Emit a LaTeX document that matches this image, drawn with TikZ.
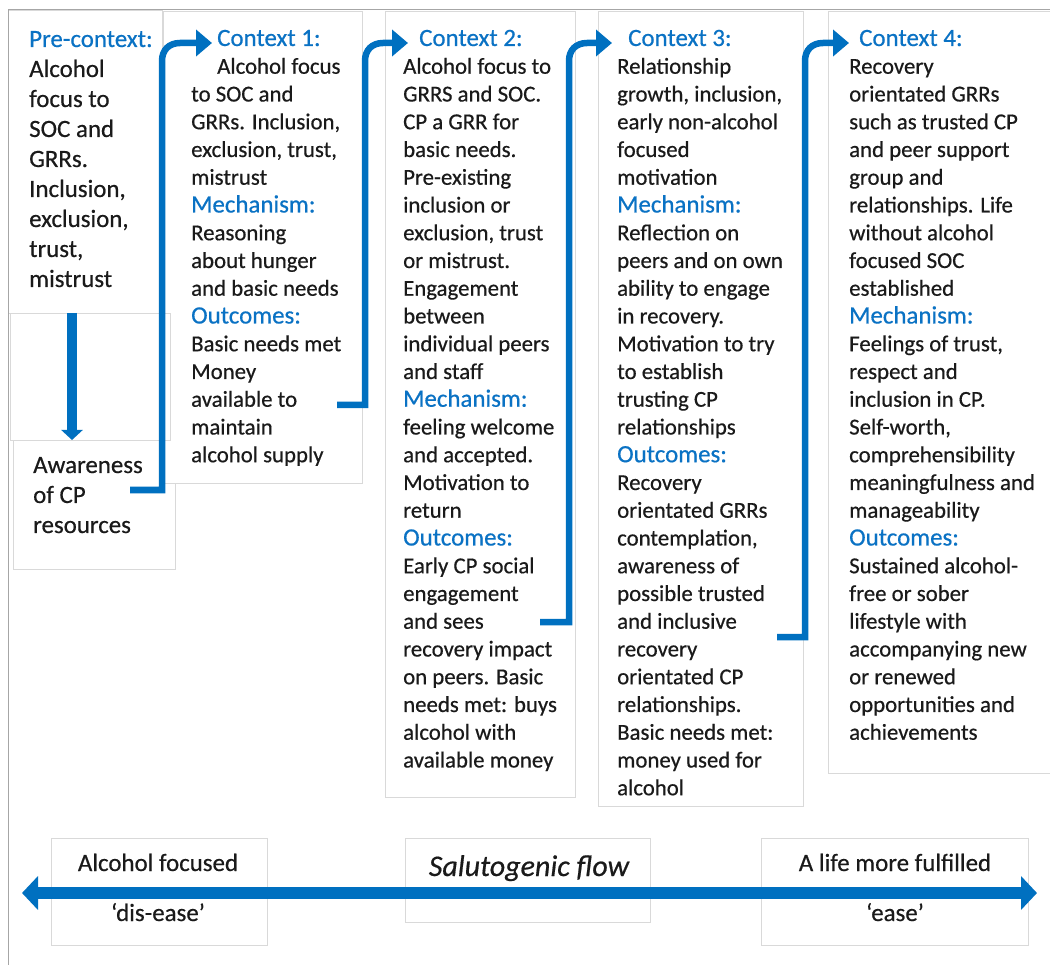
\documentclass[tikz,border=0pt]{standalone}
\usepackage{fontspec}
\setmainfont{Carlito}[FakeBold=0.5]
\usetikzlibrary{arrows.meta}

\definecolor{flowblue}{HTML}{0070C0}
\definecolor{headblue}{HTML}{0A72C4}
\definecolor{panelgray}{HTML}{D9D9D9}
\definecolor{framegray}{HTML}{A6A6A6}
\definecolor{ink}{HTML}{1A1A1A}

\newcommand{\hd}[1]{{\fontsize{24.9pt}{27.75pt}\selectfont\color{headblue}#1}}

\tikzset{
  panel/.style={draw=panelgray, line width=1pt, fill=white, anchor=north west, inner sep=0pt},
  coltext/.style={anchor=base west, inner sep=0pt, text=ink,
    font=\fontsize{22.8pt}{27.75pt}\selectfont},
  bigtext/.style={anchor=base west, inner sep=0pt, text=ink,
    font=\fontsize{24.9pt}{30pt}\selectfont},
  label/.style={anchor=base, inner sep=0pt, text=ink,
    font=\fontsize{24.9pt}{30pt}\selectfont},
  flow/.style={draw=flowblue, line width=6.5pt, line join=miter,
    -{Triangle[width=26pt,length=16pt]}},
  drop/.style={draw=flowblue, line width=9.5pt,
    -{Triangle[width=21pt,length=10pt]}},
  span/.style={draw=flowblue, line width=12pt,
    {Triangle[width=33pt,length=16pt]}-{Triangle[width=33pt,length=16pt]}},
}

\begin{document}
\begin{tikzpicture}[x=1pt, y=-1pt]
\useasboundingbox (0,0) rectangle (1050,965);

% panels
\node[panel, minimum width=154pt, minimum height=303pt] (prebox) at (8,10) {};
\node[panel, minimum width=162pt, minimum height=129pt] (awarebox) at (13,440) {};
\node[panel, minimum width=199pt, minimum height=472pt] (c1box) at (163,11) {};
\node[panel, fill=none, minimum width=160pt, minimum height=127pt] (dropbox) at (10,313) {};
\node[panel, minimum width=190pt, minimum height=786pt] (c2box) at (385,11) {};
\node[panel, minimum width=205pt, minimum height=795pt] (c3box) at (598,11) {};
\node[panel, minimum width=226pt, minimum height=762pt] (c4box) at (828,11) {};
\node[panel, minimum width=216pt, minimum height=107pt] (lbox) at (51,838) {};
\node[panel, minimum width=245pt, minimum height=84pt] (mbox) at (405,838) {};
\node[panel, minimum width=267pt, minimum height=107pt] (rbox) at (761,838) {};

% outer frame
\draw[framegray, line width=1pt] (8,965) -- (8,10) -- (1050,10);

% column texts
\node[bigtext] (pre) at (29,47) {\begin{tabular}[t]{@{}l@{}}
\hd{\fontsize{24.9pt}{30pt}\selectfont Pre-context:}\\
Alcohol\\ focus to\\ SOC and\\ GRRs.\\ Inclusion,\\ exclusion,\\ trust,\\ mistrust
\end{tabular}};

\node[bigtext] (aware) at (33,473) {\begin{tabular}[t]{@{}l@{}}
Awareness\\ of CP\\ resources
\end{tabular}};

\node[coltext] (c1) at (191,46) {\begin{tabular}[t]{@{}l@{}}
\hspace*{26pt}\hd{Context 1:}\\
\hspace*{26pt}Alcohol focus\\ to SOC and\\ GRRs. Inclusion,\\ exclusion, trust,\\ mistrust\\
\hd{Mechanism:}\\
Reasoning\\ about hunger\\ and basic needs\\
\hd{Outcomes:}\\
Basic needs met\\ Money\\ available to\\ maintain\\ alcohol supply
\end{tabular}};

\node[coltext] (c2) at (403,46) {\begin{tabular}[t]{@{}l@{}}
\hspace*{16pt}\hd{Context 2:}\\
Alcohol focus to\\ GRRS and SOC.\\ CP a GRR for\\ basic needs.\\ Pre-existing\\
inclusion or\\ exclusion, trust\\ or mistrust.\\ Engagement\\ between\\
individual peers\\ and staff\\
\hd{Mechanism:}\\
feeling welcome\\ and accepted.\\ Motivation to\\ return\\
\hd{Outcomes:}\\
Early CP social\\ engagement\\ and sees\\ recovery impact\\ on peers. Basic\\
needs met: buys\\ alcohol with\\ available money
\end{tabular}};

\node[coltext] (c3) at (617,46) {\begin{tabular}[t]{@{}l@{}}
\hspace*{11pt}\hd{Context 3:}\\
Relationship\\ growth, inclusion,\\ early non-alcohol\\ focused\\ motivation\\
\hd{Mechanism:}\\
Reflection on\\ peers and on own\\ ability to engage\\ in recovery.\\
Motivation to try\\ to establish\\ trusting CP\\ relationships\\
\hd{Outcomes:}\\
Recovery\\ orientated GRRs\\ contemplation,\\ awareness of\\ possible trusted\\
and inclusive\\ recovery\\ orientated CP\\ relationships.\\ Basic needs met:\\
money used for\\ alcohol
\end{tabular}};

\node[coltext] (c4) at (849,46) {\begin{tabular}[t]{@{}l@{}}
\hspace*{10pt}\hd{Context 4:}\\
Recovery\\ orientated GRRs\\ such as trusted CP\\ and peer support\\ group and\\
relationships. Life\\ without alcohol\\ focused SOC\\ established\\
\hd{Mechanism:}\\
Feelings of trust,\\ respect and\\ inclusion in CP.\\ Self-worth,\\
comprehensibility\\ meaningfulness and\\ manageability\\
\hd{Outcomes:}\\
Sustained alcohol-\\ free or sober\\ lifestyle with\\ accompanying new\\
or renewed\\ opportunities and\\ achievements
\end{tabular}};

% bottom scale labels
\node[label] (ltop) at (158,871) {Alcohol focused};
\node[label] (lbot) at (158,921) {‘dis-ease’};
\node[label, font=\fontsize{30pt}{36pt}\selectfont\itshape] (mid) at (529,876) {Salutogenic flow};
\node[label] (rtop) at (895,871) {A life more fulfilled};
\node[label] (rbot) at (895,921) {‘ease’};

% connector end points
\coordinate (d0) at (72,313);
\coordinate (d1) at (72,440);
\coordinate (o0) at (130,490);
\coordinate (i1) at (212,43);
\coordinate (o1) at (337,405);
\coordinate (i2) at (408,43);
\coordinate (o2) at (540,622);
\coordinate (i3) at (612,43);
\coordinate (o3) at (777,637);
\coordinate (i4) at (849,43);
\coordinate (sl) at (22,893);
\coordinate (sr) at (1037,893);

% flow connectors
\draw[drop] (d0) -- (d1);
\draw[flow] (o0) -- (162,490) -- (162,61) .. controls (162,50) and (169,43) .. (180,43) -- (i1);
\draw[flow] (o1) -- (365,405) -- (365,61) .. controls (365,50) and (372,43) .. (383,43) -- (i2);
\draw[flow] (o2) -- (569,622) -- (569,61) .. controls (569,50) and (576,43) .. (587,43) -- (i3);
\draw[flow] (o3) -- (805,637) -- (805,61) .. controls (805,50) and (812,43) .. (823,43) -- (i4);

% salutogenic scale
\draw[span] (sl) -- (sr);
\end{tikzpicture}
\end{document}
